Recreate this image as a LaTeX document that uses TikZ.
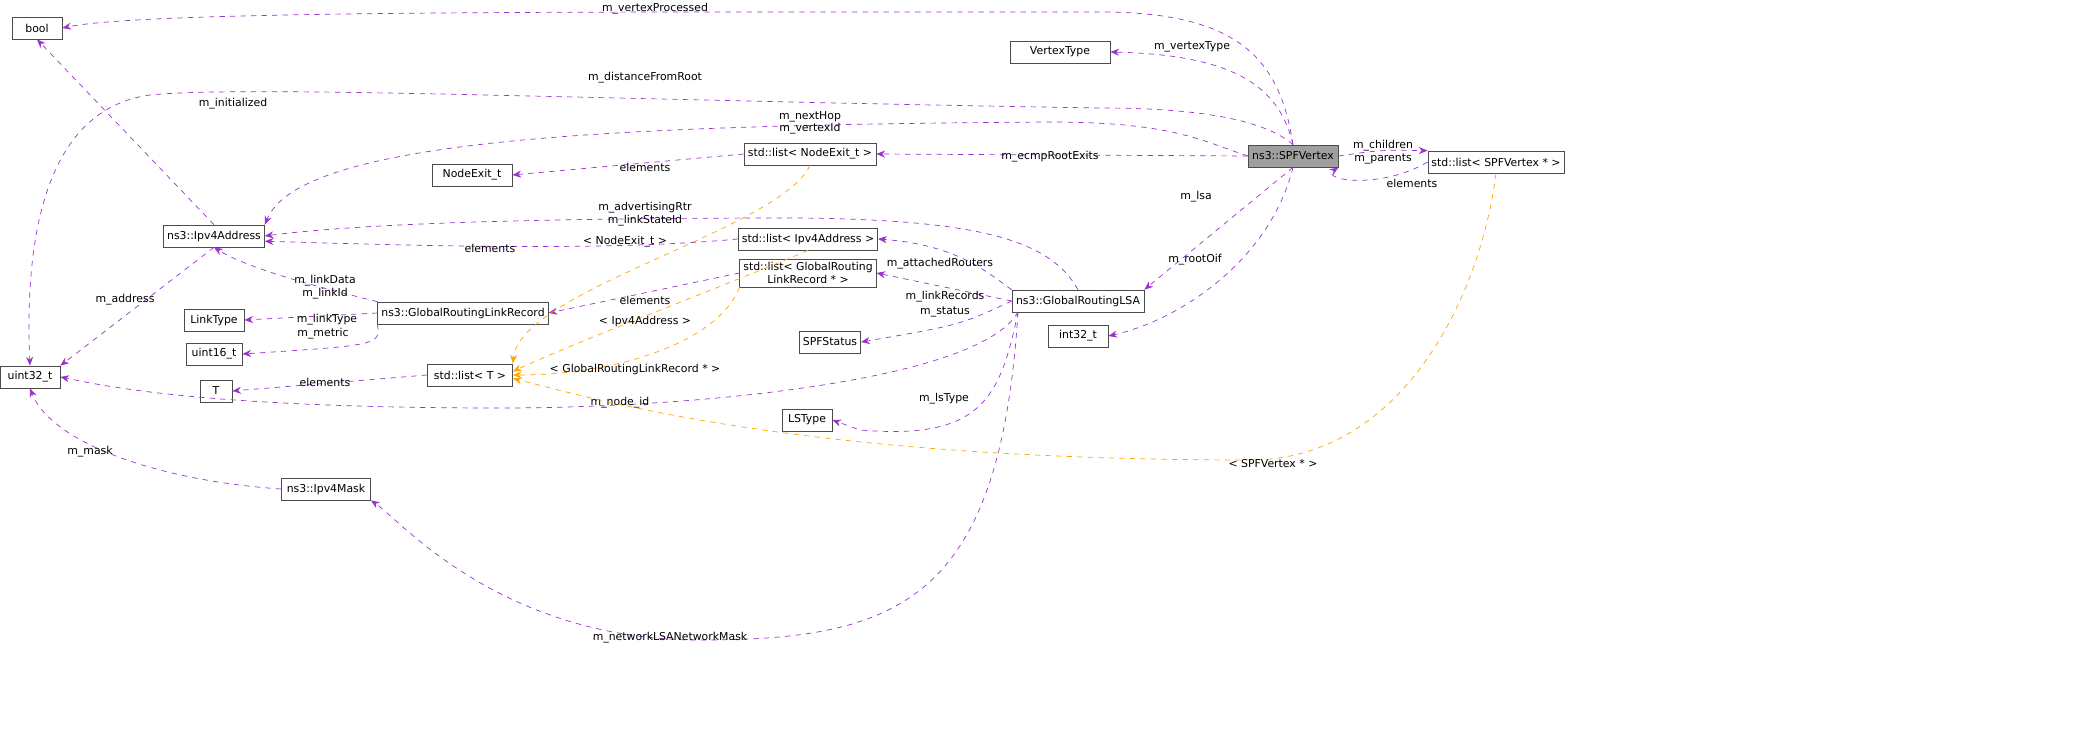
\documentclass[tikz,border=0pt]{standalone}
\usepackage{fontspec}
\setmainfont{DejaVu Sans}
\usetikzlibrary{arrows.meta,positioning}
\definecolor{dep}{HTML}{9A32CD}
\definecolor{tpl}{HTML}{FFA500}
\begin{document}
\begin{tikzpicture}[x=0.02cm,y=-0.02cm,font=\fontsize{6.2}{7}\selectfont,
  cls/.style={draw=gray!60!black,fill=white,inner sep=2pt,minimum height=0.44cm,align=center},
  uses/.style={dep,dashed,-{Stealth[length=5pt,width=4pt]}},
  inst/.style={tpl,dashed,-{Stealth[length=5pt,width=4pt]}},
  lbl/.style={align=center,inner sep=1pt,text=black}]
  \useasboundingbox (0,0) rectangle (2088,729);

  % classes
  \node[cls,minimum width=1.0cm] (bool) at (37,28) {bool};
  \node[cls,minimum width=2.0cm] (vtype) at (1060,52) {VertexType};
  \node[cls,minimum width=1.8cm,fill=gray!75] (vert) at (1293,156) {ns3::SPFVertex};
  \node[cls,minimum width=1.6cm] (nexit) at (472,175) {NodeExit\_t};
  \node[cls,minimum width=2.64cm] (le) at (810,154) {std::list\textless{} NodeExit\_t \textgreater};
  \node[cls,minimum width=2.56cm] (lsv) at (1496,162) {std::list\textless{} SPFVertex * \textgreater};
  \node[cls,minimum width=2.0cm] (ipv4) at (214,236) {ns3::Ipv4Address};
  \node[cls,minimum width=2.72cm] (la) at (808,239) {std::list\textless{} Ipv4Address \textgreater};
  \node[cls,minimum width=2.72cm] (lg) at (808,273) {std::list\textless{} GlobalRouting\\LinkRecord * \textgreater};
  \node[cls,minimum width=2.64cm] (lsa) at (1078,301) {ns3::GlobalRoutingLSA};
  \node[cls,minimum width=1.2cm] (ltype) at (214,320) {LinkType};
  \node[cls,minimum width=3.06cm] (grlr) at (463,313) {ns3::GlobalRoutingLinkRecord};
  \node[cls,minimum width=1.12cm] (u16) at (214,354) {uint16\_t};
  \node[cls,minimum width=1.2cm] (sstat) at (830,342) {SPFStatus};
  \node[cls,minimum width=1.2cm] (i32) at (1078,336) {int32\_t};
  \node[cls,minimum width=1.2cm] (u32) at (30,377) {uint32\_t};
  \node[cls,minimum width=1.7cm] (lt) at (470,375) {std::list\textless{} T \textgreater};
  \node[cls,minimum width=0.64cm] (T) at (216,391) {T};
  \node[cls,minimum width=1.0cm] (lstype) at (807,420) {LSType};
  \node[cls,minimum width=1.78cm] (mask) at (326,489) {ns3::Ipv4Mask};
  \coordinate (lsaleg) at (1018,312);

  % members
  \draw[uses] (vert.north) .. controls (1280,60) and (1240,12) .. (1100,12) .. controls (600,12) and (150,10) .. (bool.east) node[lbl,at={(655,9)}] {m\_vertexProcessed};
  \draw[uses] (ipv4.north) -- (bool.south) node[lbl,at={(233,104)}] {m\_initialized};
  \draw[uses] (vert.north) .. controls (1280,90) and (1240,55) .. (vtype.east) node[lbl,at={(1192,47)}] {m\_vertexType};
  \draw[uses] (vert.north) .. controls (1265,120) and (1200,108) .. (1100,108) .. controls (600,100) and (250,85) .. (150,95) .. controls (40,110) and (25,250) .. (u32.north) node[lbl,at={(645,78)}] {m\_distanceFromRoot};
  \draw[uses] (vert.west) .. controls (1200,140) and (1170,122) .. (1050,122) .. controls (600,125) and (300,140) .. (ipv4.north east) node[lbl,at={(810,123)}] {m\_nextHop\\m\_vertexId};
  \draw[uses] (vert.west) -- (le.east) node[lbl,at={(1050,157)}] {m\_ecmpRootExits};
  \draw[uses] (le.west) -- (nexit.east) node[lbl,at={(645,167)}] {elements};
  \draw[uses] (vert.east) .. controls (1380,150) .. (lsv.north west) node[lbl,at={(1383,152)}] {m\_children\\m\_parents};
  \draw[uses] (lsv.west) .. controls (1380,190) and (1320,180) .. (vert.south east) node[lbl,at={(1412,183)}] {elements};
  \draw[uses] (vert.south) -- (lsa.north east) node[lbl,at={(1196,197)}] {m\_lsa};
  \draw[uses] (vert.south) .. controls (1270,260) and (1180,320) .. (i32.east) node[lbl,at={(1195,260)}] {m\_rootOif};
  \draw[uses] (lsa.north) .. controls (1050,240) and (980,220) .. (800,218) .. controls (500,218) and (350,225) .. (ipv4.east) node[lbl,at={(645,214)}] {m\_advertisingRtr\\m\_linkStateId};
  \draw[uses] (la.west) .. controls (600,252) and (400,245) .. ([yshift=-3pt]ipv4.east) node[lbl,at={(490,248)}] {elements};
  \draw[uses] (lsa.north west) .. controls (990,275) and (960,245) .. (la.east) node[lbl,at={(940,264)}] {m\_attachedRouters};
  \draw[uses] (lsa.west) -- (lg.east) node[lbl,at={(945,297)}] {m\_linkRecords};
  \draw[uses] (lg.west) -- (grlr.east) node[lbl,at={(645,300)}] {elements};
  \draw[uses] (grlr.north west) .. controls (330,290) and (250,270) .. (ipv4.south) node[lbl,at={(325,287)}] {m\_linkData\\m\_linkId};
  \draw[uses] (grlr.west) -- (ltype.east) node[lbl,at={(327,320)}] {m\_linkType};
  \draw[uses] (grlr.south west) .. controls (380,345) .. (u16.east) node[lbl,at={(323,334)}] {m\_metric};
  \draw[uses] (ipv4.south) -- (u32.north east) node[lbl,at={(125,300)}] {m\_address};
  \draw[uses] (lsa.west) .. controls (960,325) .. (sstat.east) node[lbl,at={(945,312)}] {m\_status};
  \draw[uses] (lsaleg) .. controls (980,380) and (700,408) .. (500,408) .. controls (200,408) and (100,385) .. (u32.east) node[lbl,at={(620,403)}] {m\_node\_id};
  \draw[uses] (lt.west) -- (T.east) node[lbl,at={(325,382)}] {elements};
  \draw[uses] (lsaleg) .. controls (1000,400) and (980,440) .. (860,430) -- (lstype.east) node[lbl,at={(944,399)}] {m\_lsType};
  \draw[uses] (lsaleg) .. controls (1000,600) and (900,640) .. (700,640) .. controls (500,640) and (400,520) .. (mask.south east) node[lbl,at={(670,638)}] {m\_networkLSANetworkMask};
  \draw[uses] (mask.west) .. controls (150,480) and (50,440) .. (u32.south) node[lbl,at={(90,452)}] {m\_mask};

  % template instances
  \draw[inst] (le.south) .. controls (780,230) and (520,290) .. (lt.north east) node[lbl,at={(625,242)}] {\textless{} NodeExit\_t \textgreater};
  \draw[inst] (la.south) .. controls (740,280) and (580,340) .. ([yshift=2pt]lt.east) node[lbl,at={(645,321)}] {\textless{} Ipv4Address \textgreater};
  \draw[inst] (lg.south west) .. controls (720,340) and (620,375) .. (lt.east) node[lbl,at={(635,369)}] {\textless{} GlobalRoutingLinkRecord * \textgreater};
  \draw[inst] (lsv.south) .. controls (1480,300) and (1400,460) .. (1250,460) .. controls (800,460) and (600,400) .. ([yshift=-2pt]lt.east) node[lbl,at={(1273,464)}] {\textless{} SPFVertex * \textgreater};
\end{tikzpicture}
\end{document}
